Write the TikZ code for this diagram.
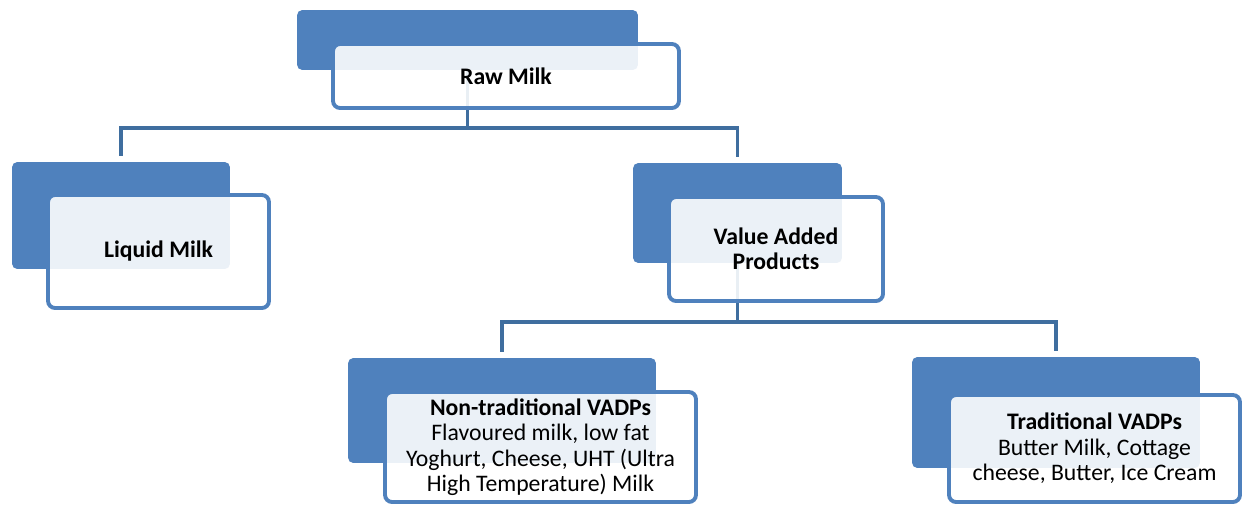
\documentclass[tikz,border=0pt]{standalone}
\usepackage{fontspec}
\setmainfont{Carlito}
\usetikzlibrary{calc}
\definecolor{VapBlue}{HTML}{4F81BD}
\definecolor{VapLink}{HTML}{3F6E9F}

\begin{document}
\begin{tikzpicture}[x=0.02cm,y=-0.02cm,
  backbox/.style={fill=VapBlue,rounded corners=3pt,inner sep=0pt},
  frontbox/.style={draw=VapBlue,line width=2.2pt,fill=white,fill opacity=0.89,
    text opacity=1,rounded corners=4pt,align=center,inner sep=0pt,
    font=\fontsize{13.5}{14.5}\selectfont},
  link/.style={draw=VapLink,line width=2.2pt}]
  \path[use as bounding box,fill=white] (0,0) rectangle (1244,504);
  % back plates
  \node[backbox,minimum width=6.82cm,minimum height=1.2cm] (rawback) at (467.5,40) {};
  \node[backbox,minimum width=4.36cm,minimum height=2.14cm] (liquidback) at (121,215.5) {};
  \node[backbox,minimum width=4.18cm,minimum height=2cm] (vaback) at (737.5,213) {};
  \node[backbox,minimum width=6.16cm,minimum height=2.1cm] (ntback) at (502,410.5) {};
  \node[backbox,minimum width=5.76cm,minimum height=2.22cm] (tback) at (1056,412.5) {};
  % connectors, behind the cards
  \coordinate (rawbus) at ($(rawback.south)+(0,58)$);
  \draw[link,shorten >=3.4pt] (rawback.south) -- (rawbus) -| (liquidback.north);
  \draw[link,shorten >=3.4pt] (rawbus) -| (vaback.north);
  \coordinate (vabus) at ($(vaback.south)+(0,59)$);
  \draw[link,shorten >=3.4pt] (vaback.south) -- (vabus) -| (ntback.north);
  \draw[link,shorten >=3.4pt] (vabus) -| (tback.north);
  % front cards
  \node[frontbox,minimum width=6.92cm,minimum height=1.28cm] (raw) at (506,76)
    {\bfseries Raw Milk};
  \node[frontbox,minimum width=4.42cm,minimum height=2.26cm] (liquid) at (158.5,251.5)
    {\bfseries Liquid Milk};
  \node[frontbox,minimum width=4.28cm,minimum height=2.08cm] (va) at (776,249)
    {\bfseries Value Added\\\bfseries Products};
  \node[frontbox,minimum width=6.22cm,minimum height=2.2cm] (nt) at (540.5,447)
    {\textbf{Non-traditional VADPs}\\Flavoured milk, low fat\\Yoghurt, Cheese, UHT (Ultra\\High Temperature) Milk};
  \node[frontbox,minimum width=5.82cm,minimum height=2.14cm] (trad) at (1094.5,448.5)
    {\textbf{Traditional VADPs}\\Butter Milk, Cottage\\cheese, Butter, Ice Cream};
\end{tikzpicture}
\end{document}
